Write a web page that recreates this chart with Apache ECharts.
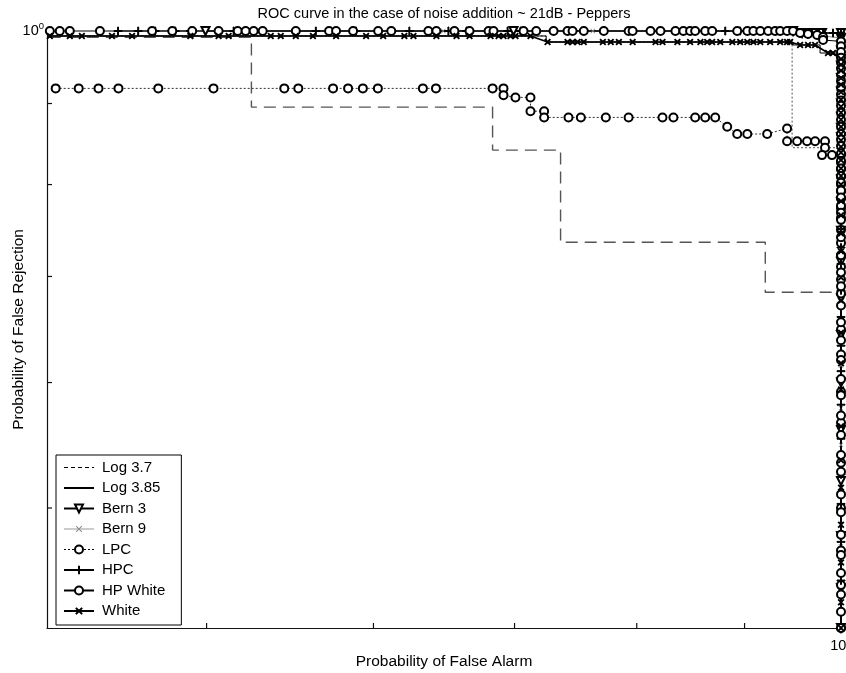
<!DOCTYPE html>
<html><head><meta charset="utf-8">
<script src="https://cdn.jsdelivr.net/npm/echarts@6/dist/echarts.min.js"></script>
<style>html,body{margin:0;padding:0;background:#fff}#c{width:846px;height:673px}</style>
</head><body><div id="c"></div>
<script>
const FONT = '"Liberation Sans", Arial, Helvetica, sans-serif';
const titleText = 'ROC curve in the case of noise addition ~ 21dB - Peppers';
const xAxisTitle = 'Probability of False Alarm';
const yAxisTitle = 'Probability of False Rejection';
const axisMin = 0.42;
const axisMax = 1;
const xTickValues = [0.5, 0.6, 0.7, 0.8, 0.9];
const yTickValues = [0.5, 0.6, 0.7, 0.8, 0.9];
const legendNames = ['Log 3.7', 'Log 3.85', 'Bern 3', 'Bern 9', 'LPC', 'HPC', 'HP White', 'White'];

// Log 3.7 : long-dashed staircase
const log37Data = [[0.4208,0.991],[0.5251,0.991],[0.5251,0.8953],[0.6834,0.8953],[0.6834,0.8411],[0.7361,0.8411],[0.7361,0.7357],[0.9206,0.7357],[0.9206,0.6841],[1,0.6841],[1,0.42]];
// Log 3.7 : fine dotted branch
const log37DotData = [[0.4208,0.9928],[0.7246,0.9928],[0.7246,0.9841],[0.948,0.9841],[0.948,0.844],[1,0.844],[1,0.42]];
// Log 3.85 : solid
const log385Data = [[0.4208,0.9928],[0.7246,0.9928],[0.7246,0.9841],[0.949,0.9841],[0.949,0.9799],[0.9774,0.9799],[0.9774,0.9685],[1,0.9685],[1,0.42]];

const bern3Data = [[0.4994,1],[0.6992,1],[0.949,1],[0.9584,0.9971],[0.9646,0.9971],[0.9721,0.9971],[0.9795,0.9971],[1,0.9971],
  [1,0.99],[1,0.979],[1,0.972],[1,0.96],[1,0.951],[1,0.934],[1,0.916],[1,0.9],[1,0.883],[1,0.869],[1,0.857],[1,0.832],[1,0.806],[1,0.78],[1,0.748],[1,0.715],[1,0.678],[1,0.643],[1,0.6],[1,0.56],[1,0.52],[1,0.48],[1,0.445],[1,0.42]];

const bern9Data = [[0.6476,1],[0.7625,1],[0.9306,1],[1,0.99],
  [1,0.985],[1,0.975],[1,0.966],[1,0.952],[1,0.938],[1,0.92],[1,0.9],[1,0.883],[1,0.864],[1,0.843],[1,0.823],[1,0.79],[1,0.757],[1,0.718],[1,0.68],[1,0.652],[1,0.615],[1,0.578],[1,0.548],[1,0.51],[1,0.473],[1,0.44],[1,0.42]];

const lpcData = [[0.424,0.92],[0.4348,0.92],[0.4443,0.92],[0.4541,0.92],[0.4743,0.92],[0.5038,0.92],[0.5443,0.92],[0.5527,0.92],[0.5741,0.92],[0.5836,0.92],[0.5931,0.92],[0.6029,0.92],[0.6333,0.92],[0.6424,0.92],[0.6834,0.92],[0.6916,0.92],[0.6916,0.911],[0.7007,0.908],[0.7123,0.908],[0.7123,0.89],[0.723,0.89],[0.723,0.882],[0.7425,0.882],[0.7526,0.882],[0.7734,0.882],[0.7929,0.882],[0.8228,0.882],[0.8327,0.882],[0.8527,0.882],[0.8621,0.882],[0.8716,0.882],[0.8831,0.87],[0.8928,0.861],[0.9027,0.861],[0.9225,0.861],[0.9428,0.868],[0.9428,0.852],[0.9532,0.852],[0.9636,0.852],[0.9721,0.852],[0.9827,0.852],[0.9827,0.844],[0.9795,0.835],[0.9902,0.835],[1,0.835],
  [1,0.826],[1,0.818],[1,0.809],[1,0.8],[1,0.792],[1,0.784],[1,0.773],[1,0.762],[1,0.749],[1,0.735],[1,0.722],[1,0.71],[1,0.697],[1,0.683],[1,0.648],[1,0.625],[1,0.592],[1,0.566],[1,0.534],[1,0.5],[1,0.47],[1,0.447],[1,0.42]];

const hpcData = [[0.4539,1],[0.464,1],[0.4727,1],[0.4832,1],[0.4912,1],[0.515,1],[0.5634,1],[0.5887,1],[0.624,1],[0.6512,1],[0.6642,1],[0.6947,1],[0.7046,1],[0.8812,1],[0.8957,1],[0.9563,0.9971],[0.9646,0.9971],[0.9742,0.9971],[0.9806,0.9971],[0.9913,0.9971],[1,0.9971],
  [1,0.993],[1,0.987],[1,0.981],[1,0.975],[1,0.969],[1,0.962],[1,0.955],[1,0.948],[1,0.94],[1,0.933],[1,0.926],[1,0.917],[1,0.908],[1,0.9],[1,0.892],[1,0.884],[1,0.875],[1,0.867],[1,0.859],[1,0.851],[1,0.843],[1,0.835],[1,0.828],[1,0.82],[1,0.812],[1,0.803],[1,0.795],[1,0.786],[1,0.77],[1,0.75],[1,0.73],[1,0.713],[1,0.686],[1,0.66],[1,0.633],[1,0.61],[1,0.581],[1,0.553],[1,0.525],[1,0.503],[1,0.476],[1,0.45],[1,0.42]];

const hpWhiteData = [[0.4213,1],[0.4259,1],[0.4306,1],[0.445,1],[0.4711,1],[0.4816,1],[0.4922,1],[0.5066,1],[0.5173,1],[0.5218,1],[0.5264,1],[0.5316,1],[0.5512,1],[0.5716,1],[0.576,1],[0.5868,1],[0.6031,1],[0.6118,1],[0.6371,1],[0.6427,1],[0.6555,1],[0.6664,1],[0.6804,1],[0.6841,1],[0.7069,1],[0.7168,1],[0.7305,1],[0.7417,1],[0.7458,1],[0.755,1],[0.7717,1],[0.7929,1],[0.7964,1],[0.8121,1],[0.821,1],[0.8345,1],[0.8418,1],[0.848,1],[0.8527,1],[0.8621,1],[0.8687,1],[0.8928,1],[0.9027,1],[0.9087,1],[0.9156,1],[0.9235,1],[0.9306,1],[0.9357,1],[0.9428,1],[0.949,1],
  [0.9563,0.9971],[0.9646,0.9957],[0.9742,0.9942],[0.9806,0.9913],[0.9806,0.987],[1,0.985],
  [1,0.978],[1,0.97],[1,0.962],[1,0.955],[1,0.947],[1,0.938],[1,0.93],[1,0.921],[1,0.912],[1,0.904],[1,0.897],[1,0.888],[1,0.879],[1,0.87],[1,0.861],[1,0.854],[1,0.846],[1,0.837],[1,0.828],[1,0.819],[1,0.81],[1,0.802],[1,0.793],[1,0.785],[1,0.776],[1,0.768],[1,0.76],[1,0.741],[1,0.722],[1,0.704],[1,0.69],[1,0.671],[1,0.655],[1,0.638],[1,0.62],[1,0.603],[1,0.589],[1,0.572],[1,0.556],[1,0.54],[1,0.527],[1,0.51],[1,0.497],[1,0.481],[1,0.467],[1,0.455],[1,0.441],[1,0.43],[1,0.42]];

const whiteData = [[0.4213,0.9928],[0.4306,0.9928],[0.4363,0.9928],[0.4509,0.9928],[0.4609,0.9928],[0.4912,0.9928],[0.5066,0.9928],[0.5122,0.9928],[0.5363,0.9928],[0.5422,0.9928],[0.5512,0.9928],[0.5616,0.9928],[0.576,0.9928],[0.5952,0.9928],[0.6064,0.9928],[0.6206,0.9928],[0.6268,0.9928],[0.6427,0.9928],[0.657,0.9928],[0.6664,0.9928],[0.6819,0.9928],[0.6879,0.9928],[0.6916,0.9928],[0.6969,0.9928],[0.7007,0.9928],[0.7123,0.9928],
  [0.7257,0.9841],[0.7417,0.9841],[0.7458,0.9841],[0.7499,0.9841],[0.755,0.9841],[0.7709,0.9841],[0.7776,0.9841],[0.7845,0.9841],[0.7964,0.9841],[0.8166,0.9841],[0.8228,0.9841],[0.8363,0.9841],[0.848,0.9841],[0.8576,0.9841],[0.864,0.9841],[0.8687,0.9841],[0.8764,0.9841],[0.888,0.9841],[0.8957,0.9841],[0.9027,0.9841],[0.9087,0.9841],[0.9156,0.9841],[0.9255,0.9841],[0.9357,0.9841],[0.9428,0.9841],[0.9459,0.9841],
  [0.9563,0.9799],[0.9646,0.9799],[0.9721,0.9799],[0.9859,0.9685],[0.9913,0.9685],
  [1,0.96],[1,0.952],[1,0.944],[1,0.934],[1,0.925],[1,0.915],[1,0.905],[1,0.896],[1,0.888],[1,0.879],[1,0.87],[1,0.861],[1,0.853],[1,0.845],[1,0.838],[1,0.829],[1,0.819],[1,0.81],[1,0.8],[1,0.781],[1,0.765],[1,0.745],[1,0.726],[1,0.699],[1,0.676],[1,0.645],[1,0.617],[1,0.594],[1,0.563],[1,0.536],[1,0.515],[1,0.488],[1,0.462],[1,0.436],[1,0.42]];

const plusPath = 'path://M4.4,0H5.6V4.4H10V5.6H5.6V10H4.4V5.6H0V4.4H4.4Z';

const chart = echarts.init(document.getElementById('c'), null, {renderer: 'canvas'});

const labelFormatter = v => (Math.abs(v - 1) < 1e-9 ? '{b|10}{s|0}' : '');
const richLabel = {
  b: {fontSize: 14.5, fontFamily: FONT, color: '#000'},
  s: {fontSize: 9.5, fontFamily: FONT, color: '#000', padding: [0, 0, 9, 0]}
};

function axisCommon() {
  return {
    type: 'log', logBase: 10, min: axisMin, max: axisMax,
    splitLine: {show: false},
    axisTick: {show: false},
    axisLine: {show: true, lineStyle: {color: '#111', width: 1.2}},
    nameLocation: 'middle',
    nameMoveOverlap: false,
    nameTextStyle: {fontSize: 15.5, fontFamily: FONT, color: '#000'},
    axisLabel: {formatter: labelFormatter, rich: richLabel, color: '#000'}
  };
}

const xAxis = Object.assign(axisCommon(), {name: xAxisTitle, nameGap: 26});
xAxis.axisLabel.margin = 8;
const yAxis = Object.assign(axisCommon(), {name: yAxisTitle, nameGap: 20});
yAxis.axisLabel.margin = 3;

const lineBase = (name, data, extra) => Object.assign({
  name, type: 'line', data, clip: false, animation: false,
  symbol: 'none', lineStyle: {color: '#000', width: 1},
  itemStyle: {color: '#000', borderColor: '#000', borderWidth: 1},
  emphasis: {disabled: true}
}, extra);

const series = [
  lineBase('Log 3.7', log37Data, {lineStyle: {color: '#555', width: 1.4, type: [12, 7]}, z: 2}),
  lineBase('Log 3.7', log37DotData, {lineStyle: {color: '#555', width: 1, type: [2, 2]}, z: 2}),
  lineBase('Log 3.85', log385Data, {lineStyle: {color: '#000', width: 1}, z: 2}),
  lineBase('Bern 3', bern3Data, {symbol: 'emptyTriangle', symbolRotate: 180, symbolSize: 8, z: 3}),
  lineBase('Bern 9', bern9Data, {symbol: plusPath, symbolRotate: 45, symbolSize: 6, lineStyle: {color: '#888', width: 1}, itemStyle: {color: '#888'}, z: 3}),
  lineBase('LPC', lpcData, {symbol: 'emptyCircle', symbolSize: 8, lineStyle: {color: '#333', width: 1, type: [2, 2]}, z: 3}),
  lineBase('HPC', hpcData, {symbol: plusPath, symbolSize: 8, z: 3}),
  lineBase('HP White', hpWhiteData, {symbol: 'emptyCircle', symbolSize: 8, z: 3}),
  lineBase('White', whiteData, {symbol: plusPath, symbolRotate: 45, symbolSize: 7, lineStyle: {color: '#000', width: 1.6}, z: 3})
];

const hiddenMark = {opacity: 0, color: 'rgba(0,0,0,0)', borderColor: 'rgba(0,0,0,0)'};
const legendData = legendNames.map(n => {
  if (n === 'Log 3.7') return {name: n, lineStyle: {color: '#000', width: 1, type: [4, 3]}, itemStyle: hiddenMark};
  if (n === 'Log 3.85') return {name: n, itemStyle: hiddenMark};
  if (n === 'LPC') return {name: n, lineStyle: {color: '#000', width: 1, type: [2, 2]}, itemStyle: {borderWidth: 1}};
  if (n === 'Bern 9') return {name: n, lineStyle: {color: '#999', width: 1}};
  return {name: n, itemStyle: {borderWidth: 1}};
});

chart.setOption({
  backgroundColor: '#fff',
  animation: false,
  title: {
    text: titleText, left: 444, top: 6, padding: 0, textAlign: 'center',
    textStyle: {fontSize: 14.5, fontWeight: 'normal', fontFamily: FONT, color: '#000'}
  },
  grid: {left: 47, right: 5, top: 31, bottom: 45, containLabel: false, outerBoundsMode: 'none'},
  xAxis, yAxis,
  legend: {
    orient: 'vertical', left: 56, top: 455,
    padding: [5, 16, 6.5, 7], itemWidth: 30, itemHeight: 10, itemGap: 5.5,
    backgroundColor: '#fff', borderColor: '#000', borderWidth: 1, borderRadius: 0,
    textStyle: {fontSize: 15, lineHeight: 14, fontFamily: FONT, color: '#000', padding: [0, 0, 0, 3]},
    selectedMode: false,
    data: legendData
  },
  series
});

// inward minor ticks placed through the axis scales
const xb = chart.convertToPixel({xAxisIndex: 0}, axisMin);
const yb = chart.convertToPixel({yAxisIndex: 0}, axisMin);
const tickEls = [];
xTickValues.forEach(v => {
  const p = chart.convertToPixel({xAxisIndex: 0}, v);
  tickEls.push({type: 'line', shape: {x1: p, y1: yb, x2: p, y2: yb - 5}, style: {stroke: '#111', lineWidth: 1.2}, z: 10});
});
yTickValues.forEach(v => {
  const p = chart.convertToPixel({yAxisIndex: 0}, v);
  tickEls.push({type: 'line', shape: {x1: xb, y1: p, x2: xb + 5, y2: p}, style: {stroke: '#111', lineWidth: 1.2}, z: 10});
});
chart.setOption({graphic: tickEls});
</script>
</body></html>
